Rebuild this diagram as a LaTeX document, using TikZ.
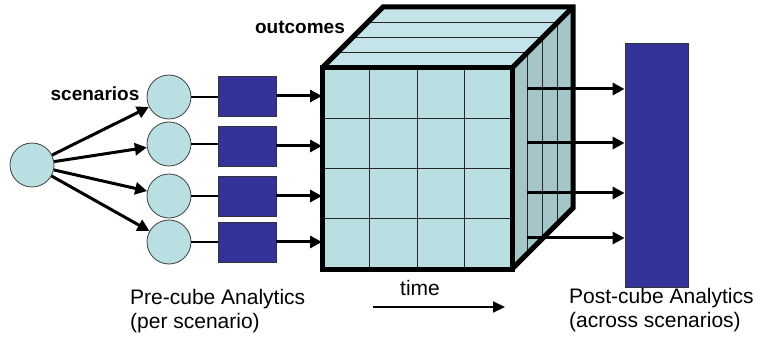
\documentclass[tikz,border=0pt]{standalone}
\usepackage{fontspec}
\setmainfont{Liberation Sans}
\usetikzlibrary{arrows.meta}
\definecolor{cfill}{HTML}{BADFE3}
\definecolor{topfill}{HTML}{C4E4E9}
\definecolor{sidefill}{HTML}{A5C6C9}
\definecolor{navyfill}{HTML}{333399}
\begin{document}
\begin{tikzpicture}[x=1pt,y=-1pt,
  circ/.style={circle, draw=black!75, line width=0.8pt, fill=cfill, minimum size=44pt, inner sep=0pt},
  blk/.style={rectangle, draw=black!80, line width=0.8pt, fill=navyfill, minimum width=58pt, minimum height=40pt, inner sep=0pt},
  arr/.style={line width=3pt, -{Triangle[length=12pt,width=12pt]}},
  plain/.style={line width=2pt},
  cubeedge/.style={line width=5pt, draw=black},
  grid/.style={line width=0.8pt, draw=black!85},
  lbl/.style={font=\fontsize{21}{24}\selectfont, align=left, inner sep=0pt},
  blbl/.style={font=\bfseries\fontsize{19}{22}\selectfont, inner sep=0pt}]
\useasboundingbox (0,0) rectangle (757,347);

% cube
\coordinate (FNW) at (322,68);
\coordinate (FSE) at (512,269);
\fill[topfill] (322,68) -- (383,7) -- (573,7) -- (512,68) -- cycle;
\fill[sidefill] (512,68) -- (573,7) -- (573,208) -- (512,269) -- cycle;
\fill[cfill] (FNW) rectangle (FSE);
\foreach \f in {0.25,0.5,0.75} {
  \draw[grid] (322+61*\f,68-61*\f) -- (512+61*\f,68-61*\f);
  \draw[grid] (512+61*\f,68-61*\f) -- (512+61*\f,269-61*\f);
}
\foreach \xx in {369.5,417,464.5} \draw[grid] (\xx,68) -- (\xx,269);
\foreach \yy in {118.25,168.5,218.75} \draw[grid] (322,\yy) -- (512,\yy);
\draw[cubeedge] (FNW) rectangle (FSE);
\draw[cubeedge] (322,68) -- (383,7) -- (573,7) -- (573,208) -- (512,269);
\draw[cubeedge] (512,68) -- (573,7);

% left part
\node[circ] (L) at (32,165) {};
\node[circ] (c1) at (169,97) {};
\node[circ] (c2) at (169,144) {};
\node[circ] (c3) at (169,196) {};
\node[circ] (c4) at (169,242) {};
\node[blk] (s1) at (247,96) {};
\node[blk] (s2) at (247,146) {};
\node[blk] (s3) at (247,196) {};
\node[blk] (s4) at (247,242) {};

\foreach \i in {1,...,4} {
  \draw[arr] (L) -- (c\i);
  \draw[plain] (c\i.east) -- (c\i.east -| s\i.west);
  \draw[arr] (s\i.east) -- (s\i.east -| FNW);
}

% post box
\node[rectangle, draw=black!80, line width=0.8pt, fill=navyfill, minimum width=63pt, minimum height=244pt, inner sep=0pt] (post) at (656.5,165) {};
\coordinate (o1) at (527,89);
\coordinate (o2) at (527,143);
\coordinate (o3) at (527,193);
\coordinate (o4) at (527,238);
\foreach \i in {1,...,4} \draw[arr] (o\i) -- (o\i -| post.west);

% labels
\node[blbl] (scen) at (95,94) {scenarios};
\node[blbl] (outc) at (300,27) {outcomes};
\node[lbl, anchor=west] (pre) at (130,311) {Pre-cube Analytics\\(per scenario)};
\node[lbl, anchor=west] (postl) at (569,310) {Post-cube Analytics\\(across scenarios)};
\node[lbl] (time) at (420,288) {time};
\coordinate (t1) at (373,307);
\coordinate (t2) at (505,307);
\draw[line width=2pt, -{Triangle[length=12pt,width=11pt]}] (t1) -- (t2);
\end{tikzpicture}
\end{document}
